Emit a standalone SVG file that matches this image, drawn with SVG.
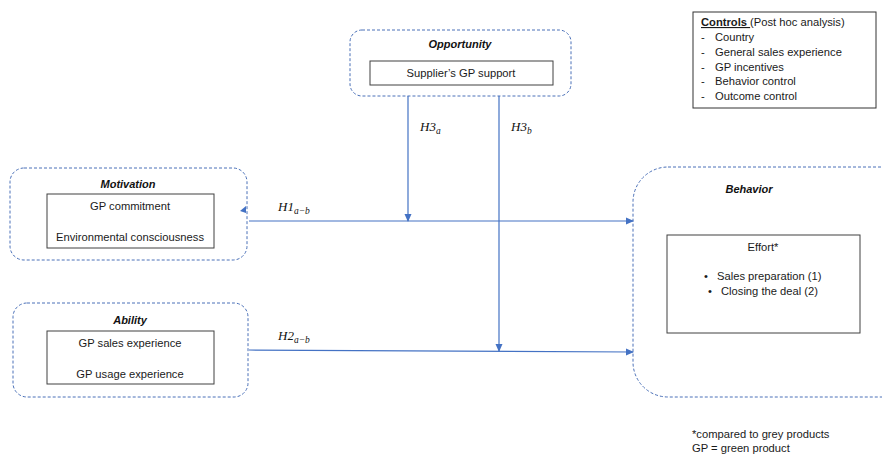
<svg xmlns="http://www.w3.org/2000/svg" width="882" height="455" viewBox="0 0 882 455">
<style>
.grp{fill:none;stroke:#4a70b8;stroke-width:1;stroke-dasharray:3 2}
.box{fill:#fff;stroke:#404040;stroke-width:1}
.t{font-family:"Liberation Sans",Arial,sans-serif;font-size:11.2px;fill:#1a1a1a}
.ti{font-family:"Liberation Sans",Arial,sans-serif;font-size:11px;font-weight:bold;font-style:italic;fill:#111}
.m{font-family:"Liberation Serif","DejaVu Serif",serif;font-style:italic;font-size:13px;fill:#111}
.s{font-size:9.5px}
.c{stroke:#4472c4;stroke-width:1.2;fill:none}
</style>
<defs>
<marker id="ah" markerWidth="8" markerHeight="8" refX="7" refY="4" orient="auto" markerUnits="userSpaceOnUse">
<path d="M0,0.5 L8,4 L0,7.5 Z" fill="#4472c4"/>
</marker>
</defs>
<rect width="882" height="455" fill="#fff"/>

<g id="opportunity">
<rect class="grp" x="350" y="30" width="221" height="66" rx="12"/>
<text class="ti" x="460" y="48" text-anchor="middle">Opportunity</text>
<rect class="box" x="370" y="61" width="183" height="24"/>
<text class="t" x="461" y="77" text-anchor="middle">Supplier’s GP support</text>
</g>

<g id="motivation">
<rect class="grp" x="10" y="168" width="237" height="92" rx="14"/>
<text class="ti" x="128" y="188" text-anchor="middle">Motivation</text>
<rect class="box" x="47" y="194" width="167" height="54"/>
<text class="t" x="130" y="210" text-anchor="middle">GP commitment</text>
<text class="t" x="130" y="241" text-anchor="middle">Environmental consciousness</text>
</g>

<g id="ability">
<rect class="grp" x="13" y="303" width="235" height="94" rx="14"/>
<text class="ti" x="130" y="324" text-anchor="middle">Ability</text>
<rect class="box" x="47" y="331" width="167" height="53"/>
<text class="t" x="130" y="347" text-anchor="middle">GP sales experience</text>
<text class="t" x="130" y="378" text-anchor="middle">GP usage experience</text>
</g>

<g id="behavior">
<rect class="grp" x="633" y="167" width="290" height="230" rx="35"/>
<text class="ti" x="749" y="193" text-anchor="middle">Behavior</text>
<rect class="box" x="667" y="235" width="193" height="98"/>
<text class="t" x="763" y="251" text-anchor="middle">Effort*</text>
<text class="t" x="704" y="280">•</text>
<text class="t" x="717" y="280">Sales preparation (1)</text>
<text class="t" x="708" y="295">•</text>
<text class="t" x="721" y="295">Closing the deal (2)</text>
</g>

<g id="controls">
<rect x="693" y="12" width="183" height="96" fill="#fff" stroke="#333" stroke-width="1"/>
<text class="t" x="701" y="26"><tspan font-weight="bold" text-decoration="underline">Controls </tspan>(Post hoc analysis)</text>
<text class="t" x="701" y="41">-</text><text class="t" x="715" y="41">Country</text>
<text class="t" x="701" y="56">-</text><text class="t" x="715" y="56">General sales experience</text>
<text class="t" x="701" y="71">-</text><text class="t" x="715" y="71">GP incentives</text>
<text class="t" x="701" y="85">-</text><text class="t" x="715" y="85">Behavior control</text>
<text class="t" x="701" y="100">-</text><text class="t" x="715" y="100">Outcome control</text>
</g>

<g id="notes">
<text class="t" x="692" y="438">*compared to grey products</text>
<text class="t" x="692" y="452">GP = green product</text>
</g>

<g id="connectors">
<line class="c" x1="249" y1="221" x2="633" y2="221" marker-end="url(#ah)"/>
<line class="c" x1="249" y1="350" x2="633" y2="352" marker-end="url(#ah)"/>
<line class="c" x1="408" y1="96" x2="408" y2="221" marker-end="url(#ah)"/>
<line class="c" x1="499" y1="96" x2="499" y2="351" marker-end="url(#ah)"/>
<path d="M240,211 L246,206 L246,213 Z" fill="#4472c4"/>
</g>

<g id="labels">
<text class="m" x="420" y="131">H3<tspan class="s" dy="3">a</tspan></text>
<text class="m" x="511" y="131">H3<tspan class="s" dy="3">b</tspan></text>
<text class="m" x="278" y="211">H1<tspan class="s" dy="3">a−b</tspan></text>
<text class="m" x="278" y="340">H2<tspan class="s" dy="3">a−b</tspan></text>
</g>
</svg>
